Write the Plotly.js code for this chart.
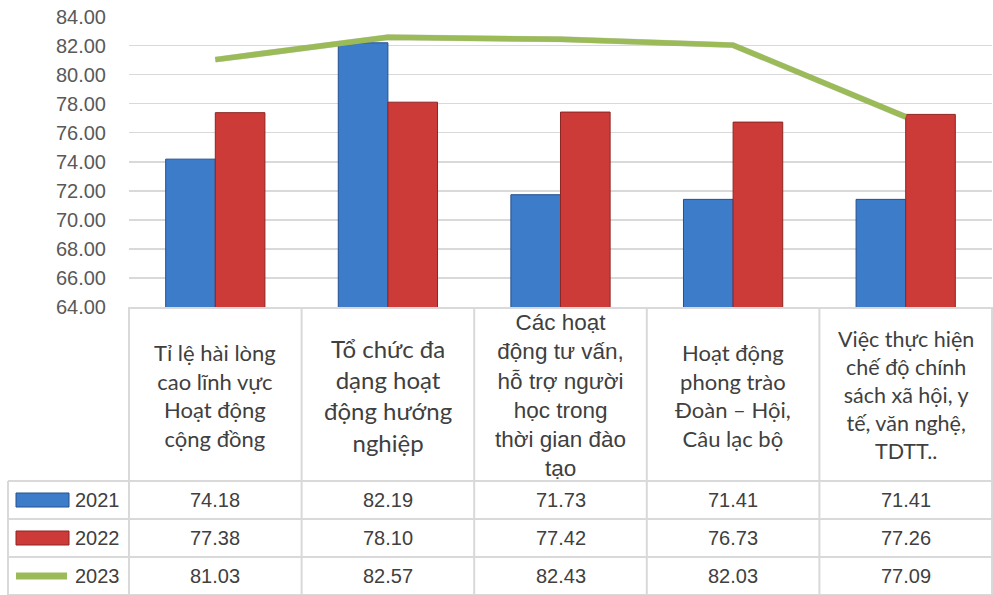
<!DOCTYPE html>
<html>
<head>
<meta charset="utf-8">
<script src="https://cdn.plot.ly/plotly-3.0.1.min.js"></script>
<style>
  html, body { margin: 0; padding: 0; background: #ffffff; }
  #chart { width: 993px; height: 595px; }
</style>
</head>
<body>
<div id="chart"></div>
<script>
// Survey satisfaction scores by activity area, 2021–2023
const categories = [
  "Tỉ lệ hài lòng\ncao lĩnh vực\nHoạt động\ncộng đồng",
  "Tổ chức đa\ndạng hoạt\nđộng hướng\nnghiệp",
  "Các hoạt\nđộng tư vấn,\nhỗ trợ người\nhọc trong\nthời gian đào\ntạo",
  "Hoạt động\nphong trào\nĐoàn – Hội,\nCâu lạc bộ",
  "Việc thực hiện\nchế độ chính\nsách xã hội, y\ntế, văn nghệ,\nTDTT.."
];
const seriesNames = ["2021", "2022", "2023"];
const values2021 = [74.18, 82.19, 71.73, 71.41, 71.41];
const values2022 = [77.38, 78.10, 77.42, 76.73, 77.26];
const values2023 = [81.03, 82.57, 82.43, 82.03, 77.09];
const yTicks = [64, 66, 68, 70, 72, 74, 76, 78, 80, 82, 84];

// ---- geometry helpers (pixel -> paper) ----
const W = 993, H = 595;
const px = x => x / W;
const py = y => 1 - y / H;

const plotLeft = 129, plotRight = 992, plotTop = 16.5, plotBottom = 307;
const colW = (plotRight - plotLeft) / categories.length;
const rowLines = [481, 519, 557, 595];
const rowCenters = [500, 538, 576];
const gridColor = "#d9d9d9";

const blue = "#3d7cc9", blueEdge = "#23508f";
const red = "#cd3b38", redEdge = "#8e2523";
const green = "#9bbb59";

const xs = categories.map((c, i) => i);

const traces = [
  {
    type: "bar", name: seriesNames[0], x: xs, y: values2021,
    marker: { color: blue, line: { color: blueEdge, width: 1 } },
    hoverinfo: "skip"
  },
  {
    type: "bar", name: seriesNames[1], x: xs, y: values2022,
    marker: { color: red, line: { color: redEdge, width: 1 } },
    hoverinfo: "skip"
  },
  // soft drop shadow under the 2023 line (offset overlay axes)
  {
    type: "scatter", mode: "lines", x: xs, y: values2023,
    xaxis: "x2", yaxis: "y2",
    line: { color: "rgba(60,60,60,0.22)", width: 6 },
    hoverinfo: "skip", showlegend: false
  },
  // the 2023 line itself, on a top overlay so it sits above the shadow
  {
    type: "scatter", mode: "lines", name: seriesNames[2], x: xs, y: values2023,
    xaxis: "x3", yaxis: "y3",
    line: { color: green, width: 5.5 },
    hoverinfo: "skip"
  }
];

// ---- data table below the plot ----
const shapes = [];
const annotations = [];
const lineStyle = { color: gridColor, width: 2 };

// column separators
for (let i = 0; i <= categories.length; i++) {
  const x = plotLeft + i * colW;
  shapes.push({ type: "line", xref: "paper", yref: "paper",
    x0: px(x), x1: px(x), y0: py(plotBottom), y1: py(H), line: lineStyle });
}
// row separators
rowLines.forEach(y => {
  shapes.push({ type: "line", xref: "paper", yref: "paper",
    x0: px(8), x1: px(plotRight), y0: py(y), y1: py(y), line: lineStyle });
});
// left edge of legend column
shapes.push({ type: "line", xref: "paper", yref: "paper",
  x0: px(8), x1: px(8), y0: py(rowLines[0]), y1: py(H), line: lineStyle });

// legend keys
shapes.push({ type: "rect", xref: "paper", yref: "paper",
  x0: px(16), x1: px(69), y0: py(507), y1: py(493),
  fillcolor: blue, line: { color: blueEdge, width: 1 } });
shapes.push({ type: "rect", xref: "paper", yref: "paper",
  x0: px(16), x1: px(69), y0: py(545), y1: py(531),
  fillcolor: red, line: { color: redEdge, width: 1 } });
shapes.push({ type: "line", xref: "paper", yref: "paper",
  x0: px(16), x1: px(67), y0: py(576), y1: py(576),
  line: { color: green, width: 7 } });

const textColor = "#404040";
const numFont = { family: "Liberation Sans, Arial, sans-serif", size: 20, color: textColor };

seriesNames.forEach((name, r) => {
  annotations.push({ xref: "paper", yref: "paper", x: px(97), y: py(rowCenters[r]),
    text: name, showarrow: false, xanchor: "center", yanchor: "middle", font: numFont });
});

// category headers: font per column
const headerFonts = [
  { family: "Lato, sans-serif", size: 22 },
  { family: "Lato, sans-serif", size: 24 },
  { family: "Liberation Sans, Arial, sans-serif", size: 22.5 },
  { family: "Lato, sans-serif", size: 22 },
  { family: "Lato, sans-serif", size: 21.5 }
];

const rows = [values2021, values2022, values2023];
categories.forEach((cat, i) => {
  const cx = plotLeft + (i + 0.5) * colW;
  annotations.push({ xref: "paper", yref: "paper", x: px(cx), y: py(395),
    text: cat.split("\n").join("<br>"), showarrow: false,
    xanchor: "center", yanchor: "middle", align: "center",
    font: Object.assign({ color: textColor }, headerFonts[i]) });
  rows.forEach((vals, r) => {
    annotations.push({ xref: "paper", yref: "paper", x: px(cx), y: py(rowCenters[r]),
      text: vals[i].toFixed(2), showarrow: false, xanchor: "center", yanchor: "middle",
      font: numFont });
  });
});

const xDomain = [px(plotLeft), px(plotRight)];
const yDomain = [py(plotBottom), py(plotTop)];
const xRange = [-0.5, categories.length - 0.5];

const layout = {
  width: W, height: H,
  margin: { l: 0, r: 0, t: 0, b: 0 },
  paper_bgcolor: "#ffffff", plot_bgcolor: "#ffffff",
  showlegend: false,
  barmode: "group", bargap: 0.425, bargroupgap: 0,
  xaxis: {
    domain: xDomain, range: xRange,
    showticklabels: false, showgrid: false, zeroline: false,
    showline: true, linecolor: gridColor, linewidth: 2, fixedrange: true
  },
  yaxis: {
    domain: yDomain, range: [64, 84], tickvals: yTicks, tickformat: ".2f",
    showgrid: true, gridcolor: gridColor, gridwidth: 1.5,
    zeroline: false, showline: false, ticks: "",
    ticklabelstandoff: 22,
    tickfont: { family: "Liberation Sans, Arial, sans-serif", size: 20, color: "#595959" },
    fixedrange: true
  },
  xaxis2: {
    domain: [px(plotLeft + 2), px(plotRight + 2)], range: xRange,
    overlaying: "x", visible: false, fixedrange: true
  },
  yaxis2: {
    domain: [py(plotBottom + 3), py(plotTop + 3)], range: [64, 84],
    overlaying: "y", visible: false, fixedrange: true
  },
  xaxis3: {
    domain: xDomain, range: xRange,
    overlaying: "x", visible: false, fixedrange: true
  },
  yaxis3: {
    domain: yDomain, range: [64, 84],
    overlaying: "y", visible: false, fixedrange: true
  },
  shapes: shapes,
  annotations: annotations
};

Plotly.newPlot("chart", traces, layout, { displayModeBar: false, staticPlot: true });
</script>
</body>
</html>
